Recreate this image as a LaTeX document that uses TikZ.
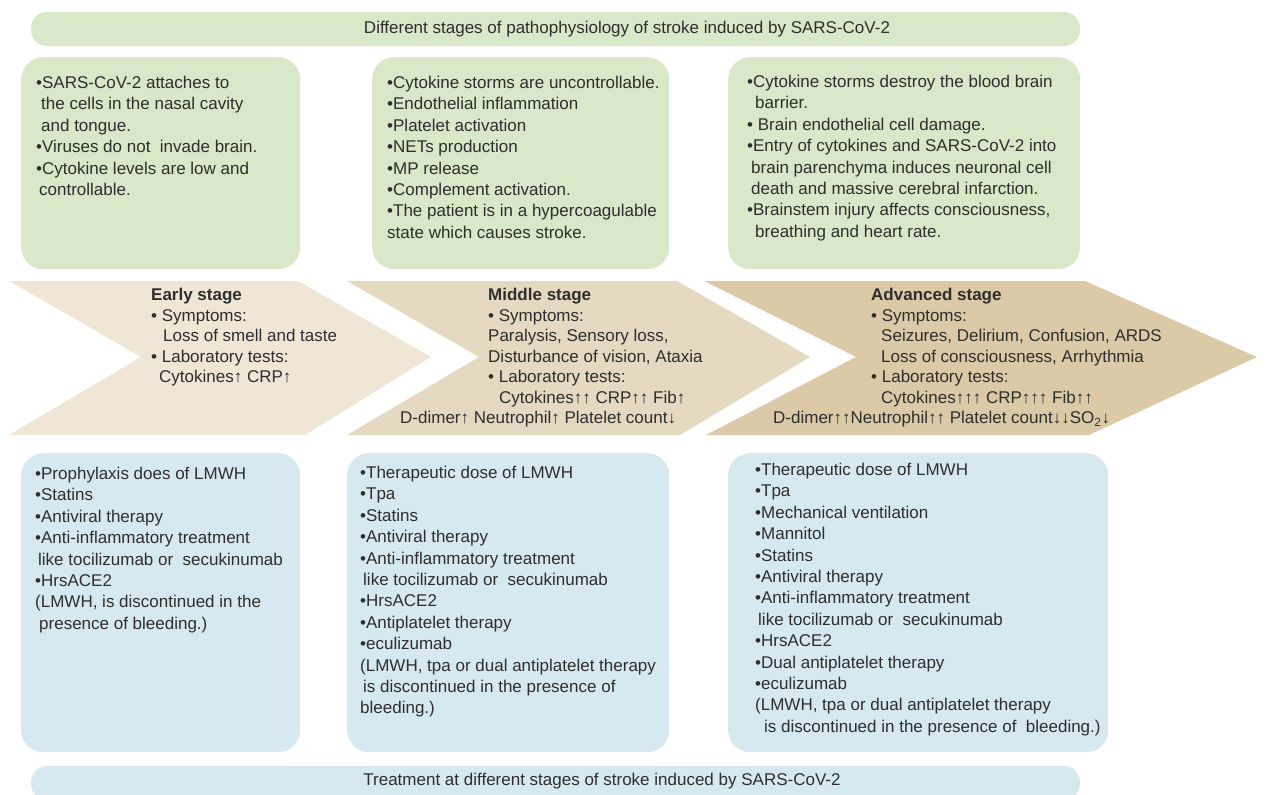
\documentclass[tikz,border=0pt]{standalone}
\usepackage{fontspec}
\setmainfont{Liberation Sans}
\definecolor{greenfill}{HTML}{D8E8C8}
\definecolor{bluefill}{HTML}{D6E9F0}
\definecolor{earlyfill}{HTML}{F0E6D6}
\definecolor{middlefill}{HTML}{E6D9C1}
\definecolor{advfill}{HTML}{DBC9A8}
\definecolor{txtgray}{HTML}{2E2E2E}
\begin{document}
\begin{tikzpicture}[x=1pt,y=-1pt,
    every node/.style={text=txtgray, font=\fontsize{17}{21.4}\selectfont},
    bar/.style={rounded corners=16pt, minimum height=34pt, inner sep=0},
    card/.style={rounded corners=22pt, anchor=north west, inner sep=0},
    cardtext/.style={anchor=north west, align=left, inner sep=0},
    stagetext/.style={anchor=north west, align=left, inner sep=0, font=\fontsize{17}{20.6}\selectfont}]
    \useasboundingbox (0,0) rectangle (1269,795);

    \node[bar, fill=greenfill, minimum width=1049pt] (topbar) at (555.5,29) {};
    \node (toptitle) at (627,29) {Different stages of pathophysiology of stroke induced by SARS-CoV-2};

    \node[card, fill=greenfill, minimum width=279pt, minimum height=212pt] (earlypath) at (21,57) {};
    \node[card, fill=greenfill, minimum width=297pt, minimum height=212pt] (middlepath) at (372,57) {};
    \node[card, fill=greenfill, minimum width=352pt, minimum height=212pt] (advpath) at (728,57) {};

    \node[cardtext] (earlypathtext) at (36,76) {•SARS-CoV-2 attaches to\\\hspace*{5pt}the cells in the nasal cavity\\\hspace*{5pt}and tongue.\\•Viruses do not\ \ invade brain.\\•Cytokine levels are low and\\\hspace*{3pt}controllable.};
    \node[cardtext] (middlepathtext) at (387,76) {•Cytokine storms are uncontrollable.\\•Endothelial inflammation\\•Platelet activation\\•NETs production\\•MP release\\•Complement activation.\\•The patient is in a hypercoagulable\\state which causes stroke.};
    \node[cardtext] (advpathtext) at (747,75) {•Cytokine storms destroy the blood brain\\\hspace*{8pt}barrier.\\• Brain endothelial cell damage.\\•Entry of cytokines and SARS-CoV-2 into\\\hspace*{4pt}brain parenchyma induces neuronal cell\\\hspace*{4pt}death and massive cerebral infarction.\\•Brainstem injury affects consciousness,\\\hspace*{8pt}breathing and heart rate.};

    \fill[earlyfill] (9,281) -- (298,281) -- (431,357) -- (305,435) -- (9,435) -- (141,357) -- cycle;
    \fill[middlefill] (347,281) -- (677,281) -- (810,357) -- (680,435) -- (347,435) -- (479,357) -- cycle;
    \fill[advfill] (704,281) -- (1085,281) -- (1257,357) -- (1089,435) -- (706,435) -- (856,357) -- cycle;

    \node[stagetext] (earlystage) at (151,288) {\textbf{Early stage}\\• Symptoms:\\\hspace*{12pt}Loss of smell and taste\\• Laboratory tests:\\\hspace*{8pt}Cytokines↑ CRP↑};
    \node[stagetext] (middlestage) at (488,288) {\textbf{Middle stage}\\• Symptoms:\\Paralysis, Sensory loss,\\Disturbance of vision, Ataxia\\• Laboratory tests:\\\hspace*{11pt}Cytokines↑↑ CRP↑↑ Fib↑};
    \node[stagetext] (middlelab) at (400,411) {D-dimer↑ Neutrophil↑ Platelet count↓};
    \node[stagetext] (advstage) at (871,288) {\textbf{Advanced stage}\\• Symptoms:\\\hspace*{10pt}Seizures, Delirium, Confusion, ARDS\\\hspace*{10pt}Loss of consciousness, Arrhythmia\\• Laboratory tests:\\\hspace*{10pt}Cytokines↑↑↑ CRP↑↑↑ Fib↑↑};
    \node[stagetext] (advlab) at (773,411) {D-dimer↑↑Neutrophil↑↑ Platelet count↓↓SO\textsubscript{2}↓};

    \node[card, fill=bluefill, minimum width=279pt, minimum height=299pt] (earlytreat) at (21,453) {};
    \node[card, fill=bluefill, minimum width=322pt, minimum height=299pt] (middletreat) at (347,453) {};
    \node[card, fill=bluefill, minimum width=380pt, minimum height=299pt] (advtreat) at (728,453) {};

    \node[cardtext] (earlytreattext) at (35,467) {•Prophylaxis does of LMWH\\•Statins\\•Antiviral therapy\\•Anti-inflammatory treatment\\\hspace*{3pt}like tocilizumab or\ \ secukinumab\\•HrsACE2\\(LMWH, is discontinued in the\\\hspace*{4pt}presence of bleeding.)};
    \node[cardtext] (middletreattext) at (360,466) {•Therapeutic dose of LMWH\\•Tpa\\•Statins\\•Antiviral therapy\\•Anti-inflammatory treatment\\\hspace*{3pt}like tocilizumab or\ \ secukinumab\\•HrsACE2\\•Antiplatelet therapy\\•eculizumab\\(LMWH, tpa or dual antiplatelet therapy\\\hspace*{3pt}is discontinued in the presence of\\bleeding.)};
    \node[cardtext] (advtreattext) at (755,463) {•Therapeutic dose of LMWH\\•Tpa\\•Mechanical ventilation\\•Mannitol\\•Statins\\•Antiviral therapy\\•Anti-inflammatory treatment\\\hspace*{3pt}like tocilizumab or\ \ secukinumab\\•HrsACE2\\•Dual antiplatelet therapy\\•eculizumab\\(LMWH, tpa or dual antiplatelet therapy\\\hspace*{9pt}is discontinued in the presence of\ \ bleeding.)};

    \node[bar, fill=bluefill, minimum width=1049pt] (bottombar) at (555.5,783) {};
    \node (bottomtitle) at (602,781) {Treatment at different stages of stroke induced by SARS-CoV-2};
\end{tikzpicture}
\end{document}
